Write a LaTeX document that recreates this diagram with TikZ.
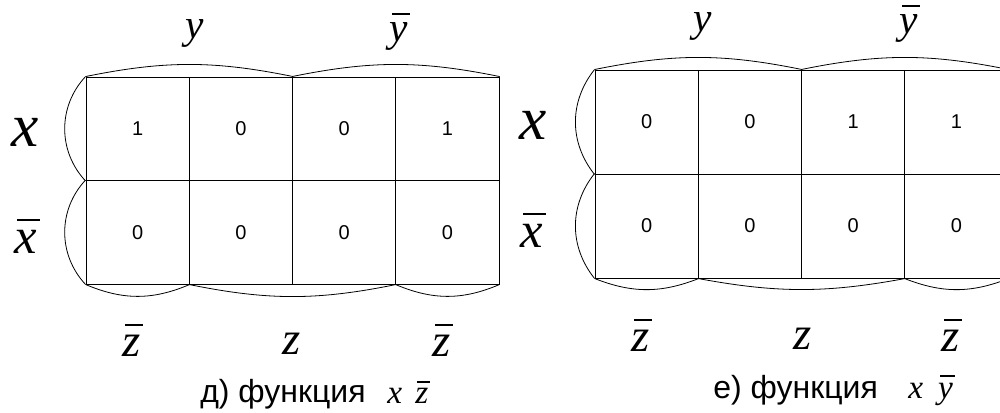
\documentclass[tikz,border=0pt]{standalone}
\usepackage{fontspec}
\setmainfont{Liberation Serif}
\newfontfamily\arial{Liberation Sans}
% overbar built from a rule, scaled with the current font
\newcommand\ovl[2][0.18em]{\setbox0\hbox{#2}\vbox{\offinterlineskip\moveright0.06em\hbox{\vrule width\wd0 height0.05em depth0pt}\kern#1\box0}}
\tikzset{
  cellL/.style={draw, line width=0.7pt, minimum width=77.5pt, minimum height=77.6pt, inner sep=0pt, font=\arial\fontsize{15}{17}\selectfont},
  cellR/.style={cellL, minimum height=78pt},
  brace/.style={line width=0.6pt},
  bigvar/.style={inner sep=0pt, font=\itshape\fontsize{46}{50}\selectfont},
  midvar/.style={inner sep=0pt, font=\itshape\fontsize{38}{42}\selectfont},
  var/.style={inner sep=0pt, font=\itshape\fontsize{31}{34}\selectfont},
  zvar/.style={inner sep=0pt, font=\itshape\fontsize{35}{38}\selectfont},
  captext/.style={inner sep=0pt, anchor=base west, font=\arial\fontsize{24}{26}\selectfont},
  capvar/.style={inner sep=0pt, anchor=base west, font=\itshape\fontsize{25}{27}\selectfont}
}
\begin{document}
\begin{tikzpicture}[x=0.75pt,y=-0.75pt]
\useasboundingbox (0,0) rectangle (1000,412);
\clip (0,0) rectangle (1000,412);
% ---- left map
\foreach \v [count=\c] in {1,0,0,1}
  \node[cellL] (L1\c) at ({86+51.65+(\c-1)*103.3},{77+51.75}) {\v};
\foreach \v [count=\c] in {0,0,0,0}
  \node[cellL] (L2\c) at ({86+51.65+(\c-1)*103.3},{77+51.75+103.5}) {\v};
\draw[brace] (L11.north west) to[bend left=11.5] (L12.north east);
\draw[brace] (L13.north west) to[bend left=11.5] (L14.north east);
\draw[brace] (L11.north west) to[bend right=43] (L11.south west);
\draw[brace] (L21.north west) to[bend right=43] (L21.south west);
\draw[brace] (L21.south west) to[bend right=23] (L21.south east);
\draw[brace] (L22.south west) to[bend right=11.5] (L23.south east);
\draw[brace] (L24.south west) to[bend right=23] (L24.south east);
\node[var] (Ly) at (195,33) {y};
\node[var] (Lny) at (400,31.5) {\ovl{y}};
\node[bigvar] (Lx) at (25,132) {x};
\node[midvar] (Lnx) at (27,236) {\ovl{x}};
\node[zvar] (Lnz1) at (133,340) {\ovl{z}};
\node[zvar] (Lz) at (292,344) {z};
\node[zvar] (Lnz2) at (443,340) {\ovl{z}};
\node[captext] (Lcap) at (200,402) {д) функция};
\node[capvar] (Lf) at (387,403) {x\hspace{0.4em}\ovl[0.14em]{z}};
% ---- right map
\foreach \v [count=\c] in {0,0,1,1}
  \node[cellR] (R1\c) at ({595+51.65+(\c-1)*103.3},{70+52}) {\v};
\foreach \v [count=\c] in {0,0,0,0}
  \node[cellR] (R2\c) at ({595+51.65+(\c-1)*103.3},{70+52+104}) {\v};
\draw[brace] (R11.north west) to[bend left=11.5] (R12.north east);
\draw[brace] (R13.north west) to[bend left=11.5] (R14.north east);
\draw[brace] (R11.north west) to[bend right=38.5] (R11.south west);
\draw[brace] (R21.north west) to[bend right=38.5] (R21.south west);
\draw[brace] (R21.south west) to[bend right=21.5] (R21.south east);
\draw[brace] (R22.south west) to[bend right=10.5] (R23.south east);
\draw[brace] (R24.south west) to[bend right=21.5] (R24.south east);
\node[var] (Ry) at (703,26) {y};
\node[var] (Rny) at (910,24) {\ovl{y}};
\node[bigvar] (Rx) at (533,125) {x};
\node[midvar] (Rnx) at (533,230) {\ovl{x}};
\node[zvar] (Rnz1) at (642,335) {\ovl{z}};
\node[zvar] (Rz) at (803,339) {z};
\node[zvar] (Rnz2) at (952,335) {\ovl{z}};
\node[captext] (Rcap) at (713,398) {е) функция};
\node[capvar] (Rf) at (908,398) {x\hspace{0.45em}\ovl{y}};
\end{tikzpicture}
\end{document}
